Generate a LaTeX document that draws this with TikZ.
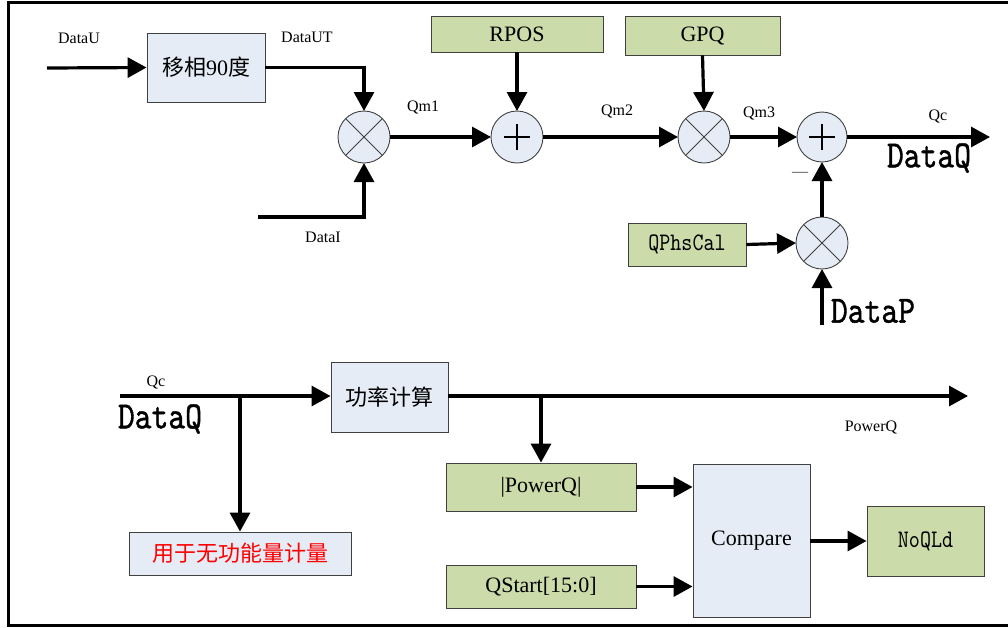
\documentclass[tikz,border=0pt]{standalone}
\usepackage{fontspec}
\setmainfont{Liberation Serif}
\newfontfamily\cjkf{Noto Sans CJK SC}
\newfontfamily\monof{lmmono10-regular.otf}[FakeBold=1.2]
\newfontfamily\monothin{lmmono10-regular.otf}
\usetikzlibrary{arrows.meta,shapes}
\definecolor{boxblue}{RGB}{230,236,246}
\definecolor{boxgreen}{RGB}{204,219,170}
\definecolor{edgegray}{RGB}{64,64,64}
\newcommand{\linew}{3.2pt}
\newcommand{\edgew}{0.9pt}
\newcommand{\mono}[2]{\scalebox{1}[1.2]{\monof\fontsize{#1}{#1}\selectfont #2}}
\newcommand{\monolite}[2]{\scalebox{1}[1.2]{\monothin\fontsize{#1}{#1}\selectfont #2}}

\begin{document}
\begin{tikzpicture}[x=1pt,y=-1pt]
            %\draw[help lines] (0,0) grid (1008,627);
            \tikzset{blk/.style={draw=edgegray, line width=\edgew, fill=boxblue, inner sep=0pt, font=\fontsize{22}{22}\selectfont},
                     grn/.style={blk, fill=boxgreen},
                     op/.style={circle, draw=edgegray, line width=\edgew, fill=boxblue, minimum size=52pt, inner sep=0pt, outer sep=0pt},
                     sig/.style={line width=\linew, -{Triangle[length=19pt,width=20pt]}},
                     lbl/.style={inner sep=0pt, font=\fontsize{16}{16}\selectfont}}
            \useasboundingbox (0,0) rectangle (1008,627);
            \draw[line width=3pt] (1008,2) -- (8,2) -- (8,625) -- (1008,625);
            % upper path
            \node[blk, minimum width=118pt, minimum height=69pt] (shift) at (206,67.5) {\cjkf 移相\rmfamily 90\cjkf 度};
            \node[grn, minimum width=172pt, minimum height=36pt] (rpos) at (517,34) {RPOS};
            \node[grn, minimum width=155pt, minimum height=39pt] (gpq) at (702.5,35.5) {GPQ};
            \node[grn, minimum width=118pt, minimum height=43pt] (qphs) at (687,244.5) {\monolite{21}{QPhsCal}};
            \node[op] (m1) at (364,137) {};
            \node[op] (a1) at (517,137) {};
            \node[op] (m2) at (704,137) {};
            \node[op, minimum size=50pt] (a2) at (822,137) {};
            \node[op] (m3) at (822,243) {};
            \foreach \m in {m1,m2,m3}
                \draw[line width=\edgew, edgegray] (\m.north west) -- (\m.south east) (\m.north east) -- (\m.south west);
            \foreach \a in {a1,a2}
                \draw[line width=1.4pt] ([xshift=-13pt]\a.center) -- ([xshift=13pt]\a.center) ([yshift=-13pt]\a.center) -- ([yshift=13pt]\a.center);
            \coordinate (du) at (47,68);
            \coordinate (di) at (258,217);
            \coordinate (qout) at (990,137);
            \coordinate (dp) at (822,325);
            \draw[sig] (du) -- (shift.west);
            \draw[sig] (shift.east) -| (m1.north);
            \draw[sig] (di) -| (m1.south);
            \draw[sig] (m1.east) -- (a1.west);
            \draw[sig] (rpos.south) -- (a1.north);
            \draw[sig] (a1.east) -- (m2.west);
            \draw[sig] (gpq.south) -- (m2.north);
            \draw[sig] (m2.east) -- (a2.west);
            \draw[sig] (a2.east) -- (qout);
            \draw[sig] (qphs.east) -- (m3.west);
            \draw[sig] (m3.north) -- (a2.south);
            \draw[sig] (dp) -- (m3.south);
            \node[lbl] (ldu) at (79,38) {DataU};
            \node[lbl] (ldut) at (307,37) {DataUT};
            \node[lbl] (ldi) at (323,237) {DataI};
            \node[lbl] (lqm1) at (423,107) {Qm1};
            \node[lbl] (lqm2) at (617,111) {Qm2};
            \node[lbl] (lqm3) at (759,113) {Qm3};
            \node[lbl] (lqc) at (938,116) {Qc};
            \node[lbl, text=edgegray] (lneg) at (800,174) {—};
            \node[inner sep=0pt] (ldq) at (929,158) {\mono{32}{DataQ}};
            \node[inner sep=0pt] (ldp) at (873,311) {\mono{32}{DataP}};
            % lower path
            \node[blk, minimum width=117pt, minimum height=70pt] (power) at (389.5,397) {\cjkf 功率计算};
            \node[blk, minimum width=222pt, minimum height=43pt, text=red] (meter) at (240,553.5) {\cjkf 用于无功能量计量};
            \node[grn, minimum width=190pt, minimum height=48pt] (absq) at (541,487) {|PowerQ|};
            \node[grn, minimum width=190pt, minimum height=43pt] (qstart) at (541,586.5) {QStart[15:0]};
            \node[blk, minimum width=117pt, minimum height=153pt] (cmp) at (751.5,541) {Compare};
            \node[grn, minimum width=117pt, minimum height=70pt] (noqld) at (925.5,541) {\monolite{21}{NoQLd}};
            \coordinate (qin) at (120,396);
            \coordinate (tap1) at (240,396);
            \coordinate (tap2) at (541,396);
            \coordinate (pout) at (968,396);
            \draw[sig] (qin) -- (power.west |- qin);
            \draw[sig] (tap1) -- (meter.north);
            \draw[sig] (power.east |- pout) -- (pout);
            \draw[sig] (tap2) -- (absq.north);
            \draw[sig] (absq.east) -- (absq.east -| cmp.west);
            \draw[sig] (qstart.east) -- (qstart.east -| cmp.west);
            \draw[sig] (cmp.east) -- (noqld.west);
            \node[lbl] (lqc2) at (156,382) {Qc};
            \node[inner sep=0pt] (ldq2) at (160,419) {\mono{32}{DataQ}};
            \node[lbl] (lpq) at (871,427) {PowerQ};
        \end{tikzpicture}
\end{document}
